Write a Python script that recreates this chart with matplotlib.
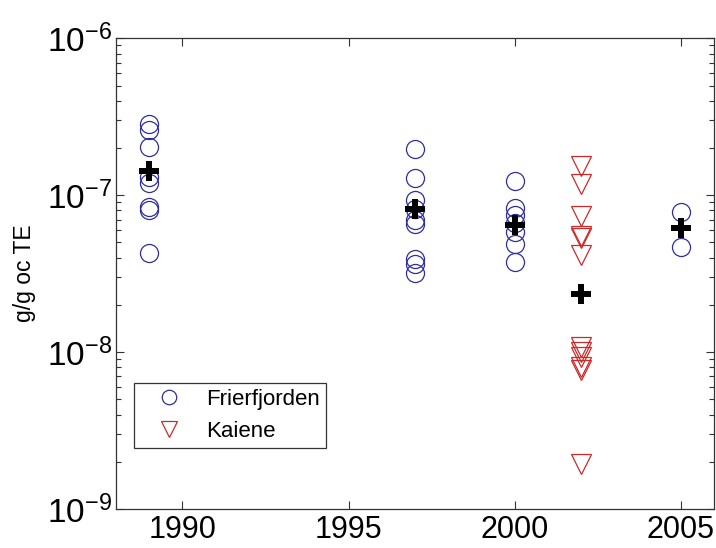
import numpy as np
import matplotlib
matplotlib.use("Agg")
import matplotlib.pyplot as plt
from matplotlib.ticker import LogLocator, FixedLocator, FixedFormatter, NullFormatter

plt.rcParams['font.family'] = ['Liberation Sans', 'DejaVu Sans']
plt.rcParams['mathtext.default'] = 'regular'

# Frierfjorden (circles)
frier_years = [1989]*8 + [1997]*9 + [2000]*7 + [2005]*2
frier_vals = [2.85e-7, 2.6e-7, 2.04e-7, 1.31e-7, 1.20e-7, 8.45e-8, 8.1e-8, 4.28e-8,
              1.96e-7, 1.29e-7, 9.3e-8, 8.2e-8, 6.95e-8, 6.6e-8, 3.9e-8, 3.64e-8, 3.18e-8,
              1.24e-7, 8.25e-8, 7.48e-8, 6.62e-8, 5.85e-8, 4.89e-8, 3.77e-8,
              7.85e-8, 4.7e-8]

# Kaiene (triangles)
kaiene_years = [2002]*12
kaiene_vals = [1.54e-7, 1.18e-7, 7.4e-8, 5.52e-8, 5.37e-8, 4.18e-8,
               1.07e-8, 9.97e-9, 9.31e-9, 8.0e-9, 7.69e-9, 1.94e-9]

# Means (black crosses)
mean_years = [1989, 1997, 2000, 2002, 2005]
mean_vals = [1.43e-7, 8.13e-8, 6.46e-8, 2.35e-8, 6.15e-8]

xticks = [1990, 1995, 2000, 2005]
yticks = [1e-9, 1e-8, 1e-7, 1e-6]
ytick_labels = [r'$10^{-9}$', r'$10^{-8}$', r'$10^{-7}$', r'$10^{-6}$']

fig = plt.figure(figsize=(7.16, 5.48), dpi=100)
ax = fig.add_axes([116/716, 1-509/548, (714-116)/716, (509-38.3)/548])

ax.plot(frier_years, frier_vals, linestyle='none', marker='o', ms=13,
        mfc='none', mec='#2e2ea0', mew=0.9, label='Frierfjorden')
ax.plot(kaiene_years, kaiene_vals, linestyle='none', marker='v', ms=14,
        mfc='none', mec='#cc2a2a', mew=0.9, label='Kaiene')
ax.plot(mean_years, mean_vals, linestyle='none', marker='P', ms=15,
        color='black', mec='black', mew=0)

ax.set_yscale('log')
ax.set_xlim(1988, 2006)
ax.set_ylim(1e-9, 1e-6)
ax.xaxis.set_major_locator(FixedLocator(xticks))
ax.yaxis.set_major_locator(FixedLocator(yticks))
ax.yaxis.set_major_formatter(FixedFormatter(ytick_labels))
ax.yaxis.set_minor_locator(LogLocator(base=10, subs=np.arange(2, 10)))
ax.yaxis.set_minor_formatter(NullFormatter())

ax.tick_params(which='both', direction='in', top=True, right=True,
               color='#333333')
ax.tick_params(which='major', length=6, width=0.8)
ax.tick_params(which='minor', length=3.5, width=0.8)
ax.tick_params(axis='x', pad=4, labelsize=22)
ax.tick_params(axis='y', pad=3, labelsize=24)
for s in ax.spines.values():
    s.set_color('#333333')
    s.set_linewidth(0.9)

ax.set_ylabel('g/g oc TE', fontsize=16.5, labelpad=8)

leg = ax.legend(loc='upper left', bbox_to_anchor=(0.0306, 0.267),
                fontsize=16, frameon=True, fancybox=False, framealpha=1,
                edgecolor='#333333', borderpad=0.25, handletextpad=0.4,
                markerscale=0.8, labelspacing=0.5, borderaxespad=0,
                handlelength=2.6)
leg.get_frame().set_linewidth(0.9)

fig.savefig('out.png', dpi=100)
